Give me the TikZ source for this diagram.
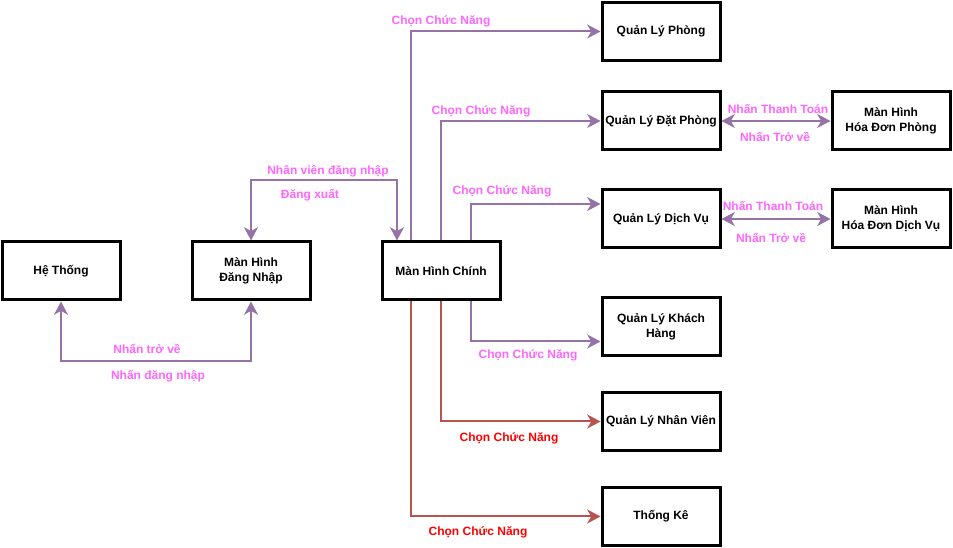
\documentclass[tikz,border=0pt]{standalone}
\usepackage{fontspec}
\setmainfont{Liberation Sans}
\usetikzlibrary{arrows.meta,calc}
\definecolor{linepurple}{HTML}{9673A6}
\definecolor{linered}{HTML}{B85450}
\definecolor{txtpink}{HTML}{FF66FF}
\definecolor{txtred}{HTML}{FF0000}
\tikzset{
  screen/.style={draw, line width=2.25pt, minimum width=88.5pt, minimum height=43.5pt,
    align=center, inner sep=1pt, font=\fontsize{9}{11.25}\selectfont\bfseries},
  tip/.style={Stealth[length=10pt,width=10.5pt,inset=3pt]},
  flowp/.style={draw=linepurple, line width=1.5pt, -{Stealth[length=10pt,width=10.5pt,inset=3pt]}},
  flowr/.style={draw=linered, line width=1.5pt, -{Stealth[length=10pt,width=10.5pt,inset=3pt]}},
  twoway/.style={flowp, {Stealth[length=10pt,width=10.5pt,inset=3pt]}-{Stealth[length=10pt,width=10.5pt,inset=3pt]}},
  pinklbl/.style={text=txtpink, inner sep=0pt, font=\fontsize{9}{11}\selectfont\bfseries},
  redlbl/.style={text=txtred, inner sep=0pt, font=\fontsize{9}{11}\selectfont\bfseries}
}
\begin{document}
\begin{tikzpicture}[x=0.75pt,y=-0.75pt]
    \useasboundingbox (0,0) rectangle (953,548);

    % screens, left to right
    \node[screen] (hethong) at (61,271) {Hệ Thống};
    \node[screen] (dangnhap) at (251,271) {Màn Hình\\Đăng Nhập};
    \node[screen] (chinh) at (441,271) {Màn Hình Chính};

    % function screens
    \node[screen] (qlphong) at (661,31.5) {Quản Lý Phòng};
    \node[screen] (qldatphong) at (661,121) {Quản Lý Đặt Phòng};
    \node[screen] (qldichvu) at (661,219) {Quản Lý Dịch Vụ};
    \node[screen] (qlkhach) at (661,326.5) {Quản Lý Khách\\Hàng};
    \node[screen] (qlnhanvien) at (661,421.5) {Quản Lý Nhân Viên};
    \node[screen] (thongke) at (661,516.5) {Thống Kê};

    % invoices
    \node[screen] (hdphong) at (891,121) {Màn Hình\\Hóa Đơn Phòng};
    \node[screen] (hddichvu) at (891,219) {Màn Hình\\Hóa Đơn Dịch Vụ};

    % login / logout
    \draw[twoway] (hethong.south) -- ++(0,60) -| (dangnhap.south);
    \node[pinklbl] (lbltrove) at (147,349) {Nhấn trở về};
    \node[pinklbl] (lbldangnhap) at (158,376.5) {Nhấn đăng nhập};

    \draw[twoway] (dangnhap.north) -- ++(0,-60) -| ($(chinh.north)+(-44,0)$);
    \node[pinklbl] (lblnhanvien) at (328,171.5) {Nhân viên đăng nhập};
    \node[pinklbl] (lbldangxuat) at (310,195.5) {Đăng xuất};

    % main screen to functions (top)
    \draw[flowp] ($(chinh.north)+(-30,0)$) |- (qlphong.west);
    \node[pinklbl] (lblphong) at (441,21.5) {Chọn Chức Năng};
    \draw[flowp] (chinh.north) |- (qldatphong.west);
    \node[pinklbl] (lbldatphong) at (481,111.5) {Chọn Chức Năng};
    \draw[flowp] ($(chinh.north)+(30,0)$) |- ($(qldichvu.west)+(0,-15)$);
    \node[pinklbl] (lbldichvu) at (502,191.5) {Chọn Chức Năng};

    % main screen to functions (bottom)
    \draw[flowp] ($(chinh.south)+(30,0)$) |- ($(qlkhach.west)+(0,15)$);
    \node[pinklbl] (lblkhach) at (528,355.5) {Chọn Chức Năng};
    \draw[flowr] (chinh.south) |- (qlnhanvien.west);
    \node[redlbl] (lblnhanvienql) at (509,438) {Chọn Chức Năng};
    \draw[flowr] ($(chinh.south)+(-30,0)$) |- (thongke.west);
    \node[redlbl] (lblthongke) at (478,532) {Chọn Chức Năng};

    % payment screens
    \draw[twoway] (qldatphong.east) -- (hdphong.west);
    \node[pinklbl] (lblthanhtoan1) at (778,109) {Nhấn Thanh Toán};
    \node[pinklbl] (lbltrove1) at (775,137) {Nhấn Trở về};
    \draw[twoway] (qldichvu.east) -- (hddichvu.west);
    \node[pinklbl] (lblthanhtoan2) at (773,205.5) {Nhấn Thanh Toán};
    \node[pinklbl] (lbltrove2) at (771,237.5) {Nhấn Trở về};

  \end{tikzpicture}
\end{document}
